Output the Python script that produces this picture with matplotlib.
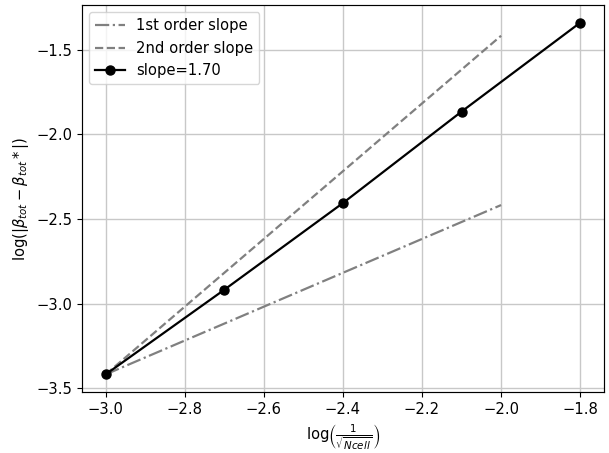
import numpy as np
import matplotlib
matplotlib.use("Agg")
import matplotlib.pyplot as plt

# log(1/sqrt(Ncell)) and log of the error
log_h = [-3.0, -2.7, -2.4, -2.1, -1.8]
log_err = [-3.418, -2.918, -2.406, -1.866, -1.341]
slope_label = "slope=1.70"

# reference slopes drawn from the coarsest point
ref_x = [-3.0, -2.0]
first_order = [-3.418, -2.418]
second_order = [-3.418, -1.418]

plt.rcParams.update({
    "font.size": 10.6,
    "lines.linewidth": 1.6,
    "lines.markersize": 6.5,
    "axes.linewidth": 0.85,
})

fig = plt.figure(figsize=(6.09, 4.53), dpi=100)
ax = fig.add_axes([0.1346, 0.1347, 0.857, 0.854])

ax.plot(ref_x, first_order, color="grey", linestyle="-.", label="1st order slope")
ax.plot(ref_x, second_order, color="grey", linestyle="--", label="2nd order slope")
ax.plot(log_h, log_err, color="black", marker="o", label=slope_label)

ax.grid(True, color="#c8c8c8", linewidth=1.0)
ax.legend(loc="upper left")
ax.set_xlabel(r"log$\left(\frac{1}{\sqrt{Ncell}}\right)$")
ax.set_ylabel(r"log$(|\beta_{tot} - \beta_{tot}*|)$")

fig.savefig("out.png", dpi=100)
